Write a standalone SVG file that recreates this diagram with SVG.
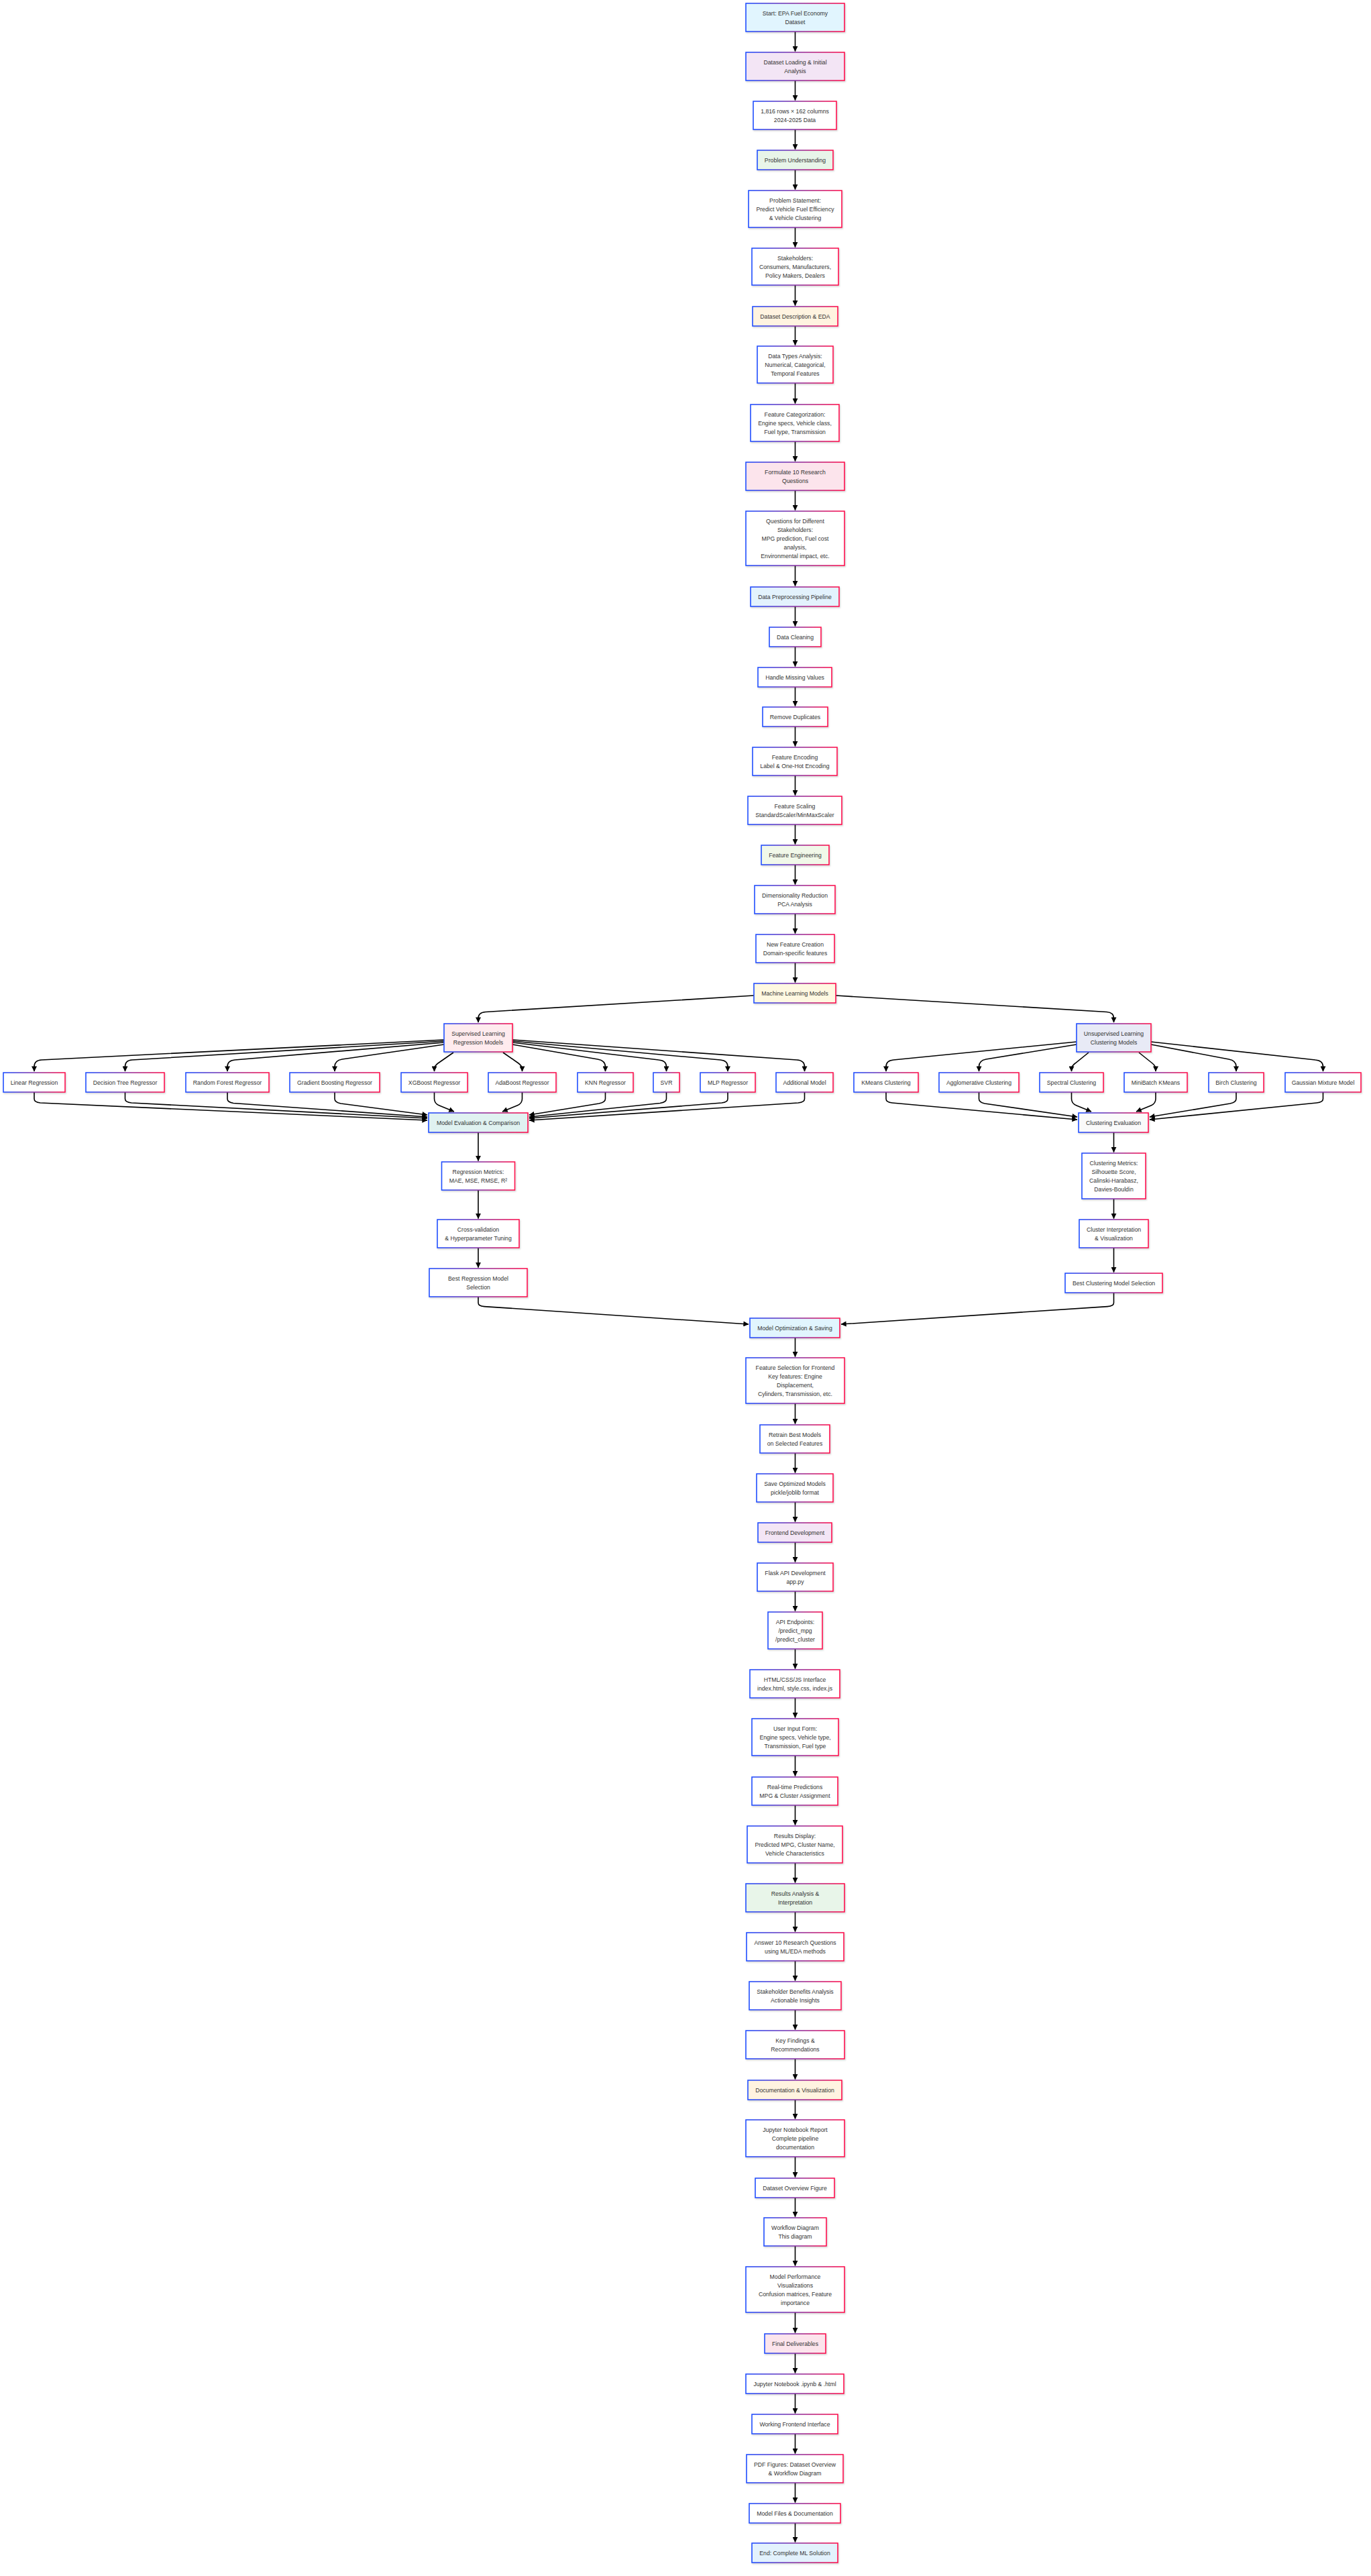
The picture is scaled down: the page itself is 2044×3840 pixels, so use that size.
<svg xmlns="http://www.w3.org/2000/svg" width="2044" height="3840" viewBox="0 0 2044 3840">
<defs>
<linearGradient id="g" x1="0" y1="0" x2="1" y2="0">
<stop offset="0" stop-color="#2350ff"/>
<stop offset="0.5" stop-color="#8a3aa8"/>
<stop offset="1" stop-color="#ff1450"/>
</linearGradient>
<filter id="sh" x="-10%" y="-20%" width="120%" height="140%">
<feDropShadow dx="1" dy="1.5" stdDeviation="1.2" flood-color="#000" flood-opacity="0.18"/>
</filter>
<marker id="ah" viewBox="0 0 10 10" refX="9.5" refY="5" markerWidth="8.5" markerHeight="8" markerUnits="userSpaceOnUse" orient="auto">
<path d="M0,0 L10,5 L0,10 z" fill="#000"/>
</marker>
</defs>
<style>
.box{stroke:url(#g);stroke-width:1.6;filter:url(#sh);fill:#fff}
.t{font-family:"Liberation Sans",Arial,Helvetica,sans-serif;font-size:8.7px;fill:#333;text-anchor:middle}
.e{fill:none;stroke:#000;stroke-width:1.6;marker-end:url(#ah)}
.cyan{fill:#e1f5fe}.purple{fill:#f3e5f5}.green{fill:#e8f5e9}.orange{fill:#fff3e0}.pink{fill:#fce4ec}.blue{fill:#e3f2fd}.lime{fill:#f1f8e9}.amber{fill:#fff8e1}.red{fill:#ffebee}.indigo{fill:#e8eaf6}.teal{fill:#e0f2f1}.grey{fill:#fafafa}
</style>
<rect width="2044" height="3840" fill="#fff"/>

<g id="connectors">
<path class="e" d="M1185.5,47 L1185.5,76.5"/>
<path class="e" d="M1185.5,120 L1185.5,149.5"/>
<path class="e" d="M1185.5,193 L1185.5,222.5"/>
<path class="e" d="M1185.5,253 L1185.5,282.5"/>
<path class="e" d="M1185.5,339 L1185.5,368.5"/>
<path class="e" d="M1185.5,425 L1185.5,455.5"/>
<path class="e" d="M1185.5,486 L1185.5,514.5"/>
<path class="e" d="M1185.5,571 L1185.5,601.5"/>
<path class="e" d="M1185.5,658 L1185.5,687.5"/>
<path class="e" d="M1185.5,731 L1185.5,760.5"/>
<path class="e" d="M1185.5,843 L1185.5,873.5"/>
<path class="e" d="M1185.5,904 L1185.5,933.5"/>
<path class="e" d="M1185.5,964 L1185.5,993.5"/>
<path class="e" d="M1185.5,1024 L1185.5,1052.5"/>
<path class="e" d="M1185.5,1083 L1185.5,1112.5"/>
<path class="e" d="M1185.5,1156 L1185.5,1185.5"/>
<path class="e" d="M1185.5,1229 L1185.5,1258.5"/>
<path class="e" d="M1185.5,1289 L1185.5,1318.5"/>
<path class="e" d="M1185.5,1362 L1185.5,1391.5"/>
<path class="e" d="M1185.5,1435 L1185.5,1464.5"/>

<path class="e" d="M1124,1484 L724,1508.5 Q713,1509.2 713,1518 L713,1524"/>
<path class="e" d="M1246,1484 L1650,1508.5 Q1660.5,1509.2 1660.5,1518 L1660.5,1524"/>

<path class="e" d="M662,1550 L62,1580 Q51,1580.5 51,1590 L51,1597"/>
<path class="e" d="M662,1552 L197,1580 Q186.5,1580.6 186.5,1590 L186.5,1597"/>
<path class="e" d="M662,1554 L350,1580 Q339,1581 339,1590 L339,1597"/>
<path class="e" d="M662,1557 L510,1579 Q499,1581 499,1590 L499,1597"/>
<path class="e" d="M676,1569 L653,1585 Q647.5,1589 647.5,1594 L647.5,1597"/>
<path class="e" d="M750,1569 L773,1585 Q778.5,1589 778.5,1594 L778.5,1597"/>
<path class="e" d="M764,1557 L891,1579 Q902.5,1581 902.5,1590 L902.5,1597"/>
<path class="e" d="M764,1554 L982,1580 Q993.5,1581 993.5,1590 L993.5,1597"/>
<path class="e" d="M764,1552 L1074,1580 Q1085,1581 1085,1590 L1085,1597"/>
<path class="e" d="M764,1550 L1188,1580 Q1199.5,1580.8 1199.5,1590 L1199.5,1597"/>

<path class="e" d="M51,1628 L51,1638 Q51,1643 60,1644 L637,1670"/>
<path class="e" d="M186.5,1628 L186.5,1638 Q186.5,1643 196,1644 L637,1667"/>
<path class="e" d="M339,1628 L339,1638 Q339,1643 348,1644.5 L637,1665"/>
<path class="e" d="M499,1628 L499,1638 Q499,1643 508,1645 L637,1662"/>
<path class="e" d="M647.5,1628 L647.5,1638 Q647.5,1645 655,1648 L677,1657"/>
<path class="e" d="M778.5,1628 L778.5,1638 Q778.5,1645 771,1648 L749,1657"/>
<path class="e" d="M902.5,1628 L902.5,1638 Q902.5,1643 893,1645 L789,1662"/>
<path class="e" d="M993.5,1628 L993.5,1638 Q993.5,1643 984,1644.5 L789,1665"/>
<path class="e" d="M1085,1628 L1085,1638 Q1085,1643 1076,1644 L789,1667"/>
<path class="e" d="M1199.5,1628 L1199.5,1638 Q1199.5,1643 1190,1644 L789,1670"/>

<path class="e" d="M1605,1553 L1332,1580 Q1321,1581 1321,1590 L1321,1597"/>
<path class="e" d="M1605,1557 L1470,1579 Q1459.5,1581 1459.5,1590 L1459.5,1597"/>
<path class="e" d="M1623,1569 L1603,1585 Q1597.5,1589 1597.5,1594 L1597.5,1597"/>
<path class="e" d="M1698,1569 L1718,1585 Q1723,1589 1723,1594 L1723,1597"/>
<path class="e" d="M1716,1557 L1832,1579 Q1843,1581 1843,1590 L1843,1597"/>
<path class="e" d="M1716,1553 L1961,1580 Q1972.5,1581 1972.5,1590 L1972.5,1597"/>

<path class="e" d="M1321,1628 L1321,1638 Q1321,1643 1330,1644 L1606,1669"/>
<path class="e" d="M1459.5,1628 L1459.5,1638 Q1459.5,1643 1468,1645 L1606,1665"/>
<path class="e" d="M1597.5,1628 L1597.5,1638 Q1597.5,1645 1605,1648 L1627,1657"/>
<path class="e" d="M1723,1628 L1723,1638 Q1723,1645 1716,1648 L1694,1657"/>
<path class="e" d="M1843,1628 L1843,1638 Q1843,1643 1834,1645 L1714,1665"/>
<path class="e" d="M1972.5,1628 L1972.5,1638 Q1972.5,1643 1963,1644 L1714,1669"/>

<path class="e" d="M713,1688 L713,1730.5"/>
<path class="e" d="M713,1774 L713,1816.5"/>
<path class="e" d="M713,1860 L713,1889.5"/>
<path class="e" d="M1660.5,1688 L1660.5,1717.5"/>
<path class="e" d="M1660.5,1787 L1660.5,1816.5"/>
<path class="e" d="M1660.5,1860 L1660.5,1896.5"/>
<path class="e" d="M713,1933 L713,1942 Q713,1947 722,1947.6 L1116,1974"/>
<path class="e" d="M1660.5,1927 L1660.5,1942 Q1660.5,1947 1651,1947.6 L1254,1974"/>

<path class="e" d="M1185.5,1994 L1185.5,2022.5"/>
<path class="e" d="M1185.5,2092 L1185.5,2122.5"/>
<path class="e" d="M1185.5,2166 L1185.5,2195.5"/>
<path class="e" d="M1185.5,2239 L1185.5,2268.5"/>
<path class="e" d="M1185.5,2299 L1185.5,2328.5"/>
<path class="e" d="M1185.5,2372 L1185.5,2401.5"/>
<path class="e" d="M1185.5,2458 L1185.5,2487.5"/>
<path class="e" d="M1185.5,2531 L1185.5,2560.5"/>
<path class="e" d="M1185.5,2617 L1185.5,2647.5"/>
<path class="e" d="M1185.5,2691 L1185.5,2720.5"/>
<path class="e" d="M1185.5,2777 L1185.5,2806.5"/>
<path class="e" d="M1185.5,2850 L1185.5,2879.5"/>
<path class="e" d="M1185.5,2923 L1185.5,2952.5"/>
<path class="e" d="M1185.5,2996 L1185.5,3025.5"/>
<path class="e" d="M1185.5,3069 L1185.5,3099.5"/>
<path class="e" d="M1185.5,3130 L1185.5,3158.5"/>
<path class="e" d="M1185.5,3215 L1185.5,3245.5"/>
<path class="e" d="M1185.5,3276 L1185.5,3304.5"/>
<path class="e" d="M1185.5,3348 L1185.5,3377.5"/>
<path class="e" d="M1185.5,3447 L1185.5,3477.5"/>
<path class="e" d="M1185.5,3508 L1185.5,3537.5"/>
<path class="e" d="M1185.5,3568 L1185.5,3597.5"/>
<path class="e" d="M1185.5,3628 L1185.5,3657.5"/>
<path class="e" d="M1185.5,3701 L1185.5,3730.5"/>
<path class="e" d="M1185.5,3761 L1185.5,3789.5"/>
</g>

<g id="n-start"><rect class="box cyan" x="1112" y="5" width="147" height="42"/><text class="t"><tspan x="1185.5" y="22.5">Start: EPA Fuel Economy</tspan><tspan x="1185.5" y="35.5">Dataset</tspan></text></g>
<g id="n-load"><rect class="box purple" x="1112" y="78" width="147" height="42"/><text class="t"><tspan x="1185.5" y="95.5">Dataset Loading &amp; Initial</tspan><tspan x="1185.5" y="108.5">Analysis</tspan></text></g>
<g id="n-rows"><rect class="box" x="1123" y="151" width="124" height="42"/><text class="t"><tspan x="1185" y="168.5">1,816 rows × 162 columns</tspan><tspan x="1185" y="181.5">2024-2025 Data</tspan></text></g>
<g id="n-problem"><rect class="box green" x="1129" y="224" width="113" height="29"/><text class="t" x="1185.5" y="241.5">Problem Understanding</text></g>
<g id="n-statement"><rect class="box" x="1116" y="284" width="139" height="55"/><text class="t"><tspan x="1185.5" y="301.5">Problem Statement:</tspan><tspan x="1185.5" y="314.5">Predict Vehicle Fuel Efficiency</tspan><tspan x="1185.5" y="327.5">&amp; Vehicle Clustering</tspan></text></g>
<g id="n-stakeholders"><rect class="box" x="1121" y="370" width="129" height="55"/><text class="t"><tspan x="1185.5" y="387.5">Stakeholders:</tspan><tspan x="1185.5" y="400.5">Consumers, Manufacturers,</tspan><tspan x="1185.5" y="413.5">Policy Makers, Dealers</tspan></text></g>
<g id="n-eda"><rect class="box orange" x="1122" y="457" width="127" height="29"/><text class="t" x="1185.5" y="474.5">Dataset Description &amp; EDA</text></g>
<g id="n-types"><rect class="box" x="1129" y="516" width="113" height="55"/><text class="t"><tspan x="1185.5" y="533.5">Data Types Analysis:</tspan><tspan x="1185.5" y="546.5">Numerical, Categorical,</tspan><tspan x="1185.5" y="559.5">Temporal Features</tspan></text></g>
<g id="n-categorization"><rect class="box" x="1119" y="603" width="132" height="55"/><text class="t"><tspan x="1185" y="620.5">Feature Categorization:</tspan><tspan x="1185" y="633.5">Engine specs, Vehicle class,</tspan><tspan x="1185" y="646.5">Fuel type, Transmission</tspan></text></g>
<g id="n-formulate"><rect class="box pink" x="1112" y="689" width="147" height="42"/><text class="t"><tspan x="1185.5" y="706.5">Formulate 10 Research</tspan><tspan x="1185.5" y="719.5">Questions</tspan></text></g>
<g id="n-questions"><rect class="box" x="1112" y="762" width="147" height="81"/><text class="t"><tspan x="1185.5" y="779.5">Questions for Different</tspan><tspan x="1185.5" y="792.5">Stakeholders:</tspan><tspan x="1185.5" y="805.5">MPG prediction, Fuel cost</tspan><tspan x="1185.5" y="818.5">analysis,</tspan><tspan x="1185.5" y="831.5">Environmental impact, etc.</tspan></text></g>
<g id="n-preprocess"><rect class="box blue" x="1119" y="875" width="132" height="29"/><text class="t" x="1185" y="892.5">Data Preprocessing Pipeline</text></g>
<g id="n-cleaning"><rect class="box" x="1147" y="935" width="77" height="29"/><text class="t" x="1185.5" y="952.5">Data Cleaning</text></g>
<g id="n-missing"><rect class="box" x="1130" y="995" width="110" height="29"/><text class="t" x="1185" y="1012.5">Handle Missing Values</text></g>
<g id="n-duplicates"><rect class="box" x="1137" y="1054" width="97" height="29"/><text class="t" x="1185.5" y="1071.5">Remove Duplicates</text></g>
<g id="n-encoding"><rect class="box" x="1122" y="1114" width="126" height="42"/><text class="t"><tspan x="1185" y="1131.5">Feature Encoding</tspan><tspan x="1185" y="1144.5">Label &amp; One-Hot Encoding</tspan></text></g>
<g id="n-scaling"><rect class="box" x="1115" y="1187" width="140" height="42"/><text class="t"><tspan x="1185" y="1204.5">Feature Scaling</tspan><tspan x="1185" y="1217.5">StandardScaler/MinMaxScaler</tspan></text></g>
<g id="n-fe"><rect class="box lime" x="1135" y="1260" width="101" height="29"/><text class="t" x="1185.5" y="1277.5">Feature Engineering</text></g>
<g id="n-pca"><rect class="box" x="1125" y="1320" width="120" height="42"/><text class="t"><tspan x="1185" y="1337.5">Dimensionality Reduction</tspan><tspan x="1185" y="1350.5">PCA Analysis</tspan></text></g>
<g id="n-newfeat"><rect class="box" x="1127" y="1393" width="117" height="42"/><text class="t"><tspan x="1185.5" y="1410.5">New Feature Creation</tspan><tspan x="1185.5" y="1423.5">Domain-specific features</tspan></text></g>
<g id="n-ml"><rect class="box amber" x="1124" y="1466" width="122" height="29"/><text class="t" x="1185" y="1483.5">Machine Learning Models</text></g>

<g id="n-sup"><rect class="box red" x="662" y="1526" width="102" height="42"/><text class="t"><tspan x="713" y="1543.5">Supervised Learning</tspan><tspan x="713" y="1556.5">Regression Models</tspan></text></g>
<g id="n-unsup"><rect class="box indigo" x="1605" y="1526" width="111" height="42"/><text class="t"><tspan x="1660.5" y="1543.5">Unsupervised Learning</tspan><tspan x="1660.5" y="1556.5">Clustering Models</tspan></text></g>

<g id="n-linear"><rect class="box" x="5" y="1599" width="92" height="29"/><text class="t" x="51" y="1616.5">Linear Regression</text></g>
<g id="n-dtree"><rect class="box" x="128" y="1599" width="117" height="29"/><text class="t" x="186.5" y="1616.5">Decision Tree Regressor</text></g>
<g id="n-rforest"><rect class="box" x="277" y="1599" width="124" height="29"/><text class="t" x="339" y="1616.5">Random Forest Regressor</text></g>
<g id="n-gboost"><rect class="box" x="432" y="1599" width="134" height="29"/><text class="t" x="499" y="1616.5">Gradient Boosting Regressor</text></g>
<g id="n-xgb"><rect class="box" x="598" y="1599" width="99" height="29"/><text class="t" x="647.5" y="1616.5">XGBoost Regressor</text></g>
<g id="n-ada"><rect class="box" x="728" y="1599" width="101" height="29"/><text class="t" x="778.5" y="1616.5">AdaBoost Regressor</text></g>
<g id="n-knn"><rect class="box" x="861" y="1599" width="83" height="29"/><text class="t" x="902.5" y="1616.5">KNN Regressor</text></g>
<g id="n-svr"><rect class="box" x="974" y="1599" width="39" height="29"/><text class="t" x="993.5" y="1616.5">SVR</text></g>
<g id="n-mlp"><rect class="box" x="1044" y="1599" width="82" height="29"/><text class="t" x="1085" y="1616.5">MLP Regressor</text></g>
<g id="n-additional"><rect class="box" x="1157" y="1599" width="85" height="29"/><text class="t" x="1199.5" y="1616.5">Additional Model</text></g>
<g id="n-kmeans"><rect class="box" x="1273" y="1599" width="96" height="29"/><text class="t" x="1321" y="1616.5">KMeans Clustering</text></g>
<g id="n-agglo"><rect class="box" x="1400" y="1599" width="119" height="29"/><text class="t" x="1459.5" y="1616.5">Agglomerative Clustering</text></g>
<g id="n-spectral"><rect class="box" x="1550" y="1599" width="95" height="29"/><text class="t" x="1597.5" y="1616.5">Spectral Clustering</text></g>
<g id="n-minibatch"><rect class="box" x="1676" y="1599" width="94" height="29"/><text class="t" x="1723" y="1616.5">MiniBatch KMeans</text></g>
<g id="n-birch"><rect class="box" x="1802" y="1599" width="82" height="29"/><text class="t" x="1843" y="1616.5">Birch Clustering</text></g>
<g id="n-gmm"><rect class="box" x="1916" y="1599" width="113" height="29"/><text class="t" x="1972.5" y="1616.5">Gaussian Mixture Model</text></g>

<g id="n-evalr"><rect class="box teal" x="639" y="1659" width="148" height="29"/><text class="t" x="713" y="1676.5">Model Evaluation &amp; Comparison</text></g>
<g id="n-evalc"><rect class="box grey" x="1608" y="1659" width="104" height="29"/><text class="t" x="1660" y="1676.5">Clustering Evaluation</text></g>
<g id="n-metricsr"><rect class="box" x="658.5" y="1732" width="109" height="42"/><text class="t"><tspan x="713" y="1749.5">Regression Metrics:</tspan><tspan x="713" y="1762.5">MAE, MSE, RMSE, R²</tspan></text></g>
<g id="n-cv"><rect class="box" x="652" y="1818" width="122" height="42"/><text class="t"><tspan x="713" y="1835.5">Cross-validation</tspan><tspan x="713" y="1848.5">&amp; Hyperparameter Tuning</tspan></text></g>
<g id="n-bestr"><rect class="box" x="640" y="1891" width="146" height="42"/><text class="t"><tspan x="713" y="1908.5">Best Regression Model</tspan><tspan x="713" y="1921.5">Selection</tspan></text></g>
<g id="n-metricsc"><rect class="box" x="1613" y="1719" width="95" height="68"/><text class="t"><tspan x="1660.5" y="1736.5">Clustering Metrics:</tspan><tspan x="1660.5" y="1749.5">Silhouette Score,</tspan><tspan x="1660.5" y="1762.5">Calinski-Harabasz,</tspan><tspan x="1660.5" y="1775.5">Davies-Bouldin</tspan></text></g>
<g id="n-interp"><rect class="box" x="1609" y="1818" width="103" height="42"/><text class="t"><tspan x="1660.5" y="1835.5">Cluster Interpretation</tspan><tspan x="1660.5" y="1848.5">&amp; Visualization</tspan></text></g>
<g id="n-bestc"><rect class="box" x="1588" y="1898" width="145" height="29"/><text class="t" x="1660.5" y="1915.5">Best Clustering Model Selection</text></g>
<g id="n-opt"><rect class="box cyan" x="1118" y="1965" width="134" height="29"/><text class="t" x="1185" y="1982.5">Model Optimization &amp; Saving</text></g>

<g id="n-featsel"><rect class="box" x="1112" y="2024" width="147" height="68"/><text class="t"><tspan x="1185.5" y="2041.5">Feature Selection for Frontend</tspan><tspan x="1185.5" y="2054.5">Key features: Engine</tspan><tspan x="1185.5" y="2067.5">Displacement,</tspan><tspan x="1185.5" y="2080.5">Cylinders, Transmission, etc.</tspan></text></g>
<g id="n-retrain"><rect class="box" x="1133" y="2124" width="104" height="42"/><text class="t"><tspan x="1185" y="2141.5">Retrain Best Models</tspan><tspan x="1185" y="2154.5">on Selected Features</tspan></text></g>
<g id="n-save"><rect class="box" x="1128" y="2197" width="114" height="42"/><text class="t"><tspan x="1185" y="2214.5">Save Optimized Models</tspan><tspan x="1185" y="2227.5">pickle/joblib format</tspan></text></g>
<g id="n-frontend"><rect class="box purple" x="1130" y="2270" width="110" height="29"/><text class="t" x="1185" y="2287.5">Frontend Development</text></g>
<g id="n-flask"><rect class="box" x="1129" y="2330" width="113" height="42"/><text class="t"><tspan x="1185.5" y="2347.5">Flask API Development</tspan><tspan x="1185.5" y="2360.5">app.py</tspan></text></g>
<g id="n-api"><rect class="box" x="1145" y="2403" width="81" height="55"/><text class="t"><tspan x="1185.5" y="2420.5">API Endpoints:</tspan><tspan x="1185.5" y="2433.5">/predict_mpg</tspan><tspan x="1185.5" y="2446.5">/predict_cluster</tspan></text></g>
<g id="n-html"><rect class="box" x="1118" y="2489" width="134" height="42"/><text class="t"><tspan x="1185" y="2506.5">HTML/CSS/JS Interface</tspan><tspan x="1185" y="2519.5">index.html, style.css, index.js</tspan></text></g>
<g id="n-form"><rect class="box" x="1121" y="2562" width="129" height="55"/><text class="t"><tspan x="1185.5" y="2579.5">User Input Form:</tspan><tspan x="1185.5" y="2592.5">Engine specs, Vehicle type,</tspan><tspan x="1185.5" y="2605.5">Transmission, Fuel type</tspan></text></g>
<g id="n-realtime"><rect class="box" x="1121" y="2649" width="128" height="42"/><text class="t"><tspan x="1185" y="2666.5">Real-time Predictions</tspan><tspan x="1185" y="2679.5">MPG &amp; Cluster Assignment</tspan></text></g>
<g id="n-display"><rect class="box" x="1114" y="2722" width="142" height="55"/><text class="t"><tspan x="1185" y="2739.5">Results Display:</tspan><tspan x="1185" y="2752.5">Predicted MPG, Cluster Name,</tspan><tspan x="1185" y="2765.5">Vehicle Characteristics</tspan></text></g>
<g id="n-analysis"><rect class="box green" x="1112" y="2808" width="147" height="42"/><text class="t"><tspan x="1185.5" y="2825.5">Results Analysis &amp;</tspan><tspan x="1185.5" y="2838.5">Interpretation</tspan></text></g>
<g id="n-answer"><rect class="box" x="1113" y="2881" width="145" height="42"/><text class="t"><tspan x="1185.5" y="2898.5">Answer 10 Research Questions</tspan><tspan x="1185.5" y="2911.5">using ML/EDA methods</tspan></text></g>
<g id="n-benefits"><rect class="box" x="1117" y="2954" width="137" height="42"/><text class="t"><tspan x="1185.5" y="2971.5">Stakeholder Benefits Analysis</tspan><tspan x="1185.5" y="2984.5">Actionable Insights</tspan></text></g>
<g id="n-findings"><rect class="box" x="1112" y="3027" width="147" height="42"/><text class="t"><tspan x="1185.5" y="3044.5">Key Findings &amp;</tspan><tspan x="1185.5" y="3057.5">Recommendations</tspan></text></g>
<g id="n-docs"><rect class="box orange" x="1115" y="3101" width="140" height="29"/><text class="t" x="1185" y="3118.5">Documentation &amp; Visualization</text></g>
<g id="n-jupyter"><rect class="box" x="1112" y="3160" width="147" height="55"/><text class="t"><tspan x="1185.5" y="3177.5">Jupyter Notebook Report</tspan><tspan x="1185.5" y="3190.5">Complete pipeline</tspan><tspan x="1185.5" y="3203.5">documentation</tspan></text></g>
<g id="n-overview"><rect class="box" x="1126" y="3247" width="118" height="29"/><text class="t" x="1185" y="3264.5">Dataset Overview Figure</text></g>
<g id="n-workflow"><rect class="box" x="1139" y="3306" width="93" height="42"/><text class="t"><tspan x="1185.5" y="3323.5">Workflow Diagram</tspan><tspan x="1185.5" y="3336.5">This diagram</tspan></text></g>
<g id="n-perf"><rect class="box" x="1112" y="3379" width="147" height="68"/><text class="t"><tspan x="1185.5" y="3396.5">Model Performance</tspan><tspan x="1185.5" y="3409.5">Visualizations</tspan><tspan x="1185.5" y="3422.5">Confusion matrices, Feature</tspan><tspan x="1185.5" y="3435.5">importance</tspan></text></g>
<g id="n-final"><rect class="box pink" x="1140" y="3479" width="91" height="29"/><text class="t" x="1185.5" y="3496.5">Final Deliverables</text></g>
<g id="n-ipynb"><rect class="box" x="1112" y="3539" width="146" height="29"/><text class="t" x="1185" y="3556.5">Jupyter Notebook .ipynb &amp; .html</text></g>
<g id="n-working"><rect class="box" x="1121" y="3599" width="128" height="29"/><text class="t" x="1185" y="3616.5">Working Frontend Interface</text></g>
<g id="n-pdf"><rect class="box" x="1113" y="3659" width="144" height="42"/><text class="t"><tspan x="1185" y="3676.5">PDF Figures: Dataset Overview</tspan><tspan x="1185" y="3689.5">&amp; Workflow Diagram</tspan></text></g>
<g id="n-files"><rect class="box" x="1117" y="3732" width="136" height="29"/><text class="t" x="1185" y="3749.5">Model Files &amp; Documentation</text></g>
<g id="n-end"><rect class="box blue" x="1121" y="3791" width="128" height="29"/><text class="t" x="1185" y="3808.5">End: Complete ML Solution</text></g>
</svg>
